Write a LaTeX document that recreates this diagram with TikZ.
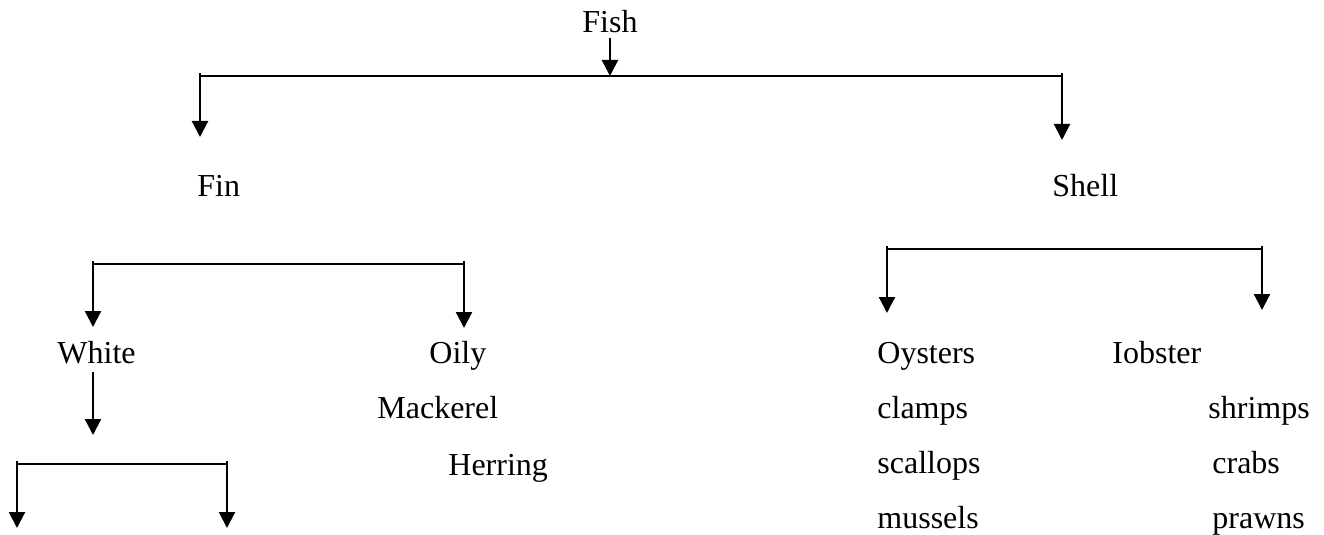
\documentclass[tikz,border=0pt]{standalone}
\usepackage{fontspec}
\setmainfont{Liberation Serif}
\usetikzlibrary{arrows.meta}
\begin{document}
\begin{tikzpicture}[x=0.5pt, y=-0.5pt,
    lbl/.style={inner sep=0pt, anchor=base west, font=\fontsize{16}{19}\selectfont},
    bar/.style={line width=1.1pt},
    arr/.style={line width=1.1pt, -{Triangle[width=8pt, length=8pt]}}]
    \useasboundingbox (0,0) rectangle (1324,535);
    % labels
    \node[lbl] (fish) at (582,33) {Fish};
    \node[lbl] (fin) at (197,197) {Fin};
    \node[lbl] (shell) at (1052,197) {Shell};
    \node[lbl] (white) at (57,363) {White};
    \node[lbl] (oily) at (429,363) {Oily};
    \node[lbl] (mackerel) at (377,418) {Mackerel};
    \node[lbl] (herring) at (448,475) {Herring};
    \foreach \nm/\y [count=\i] in {Oysters/363, clamps/418, scallops/473, mussels/528}
        \node[lbl] (shl\i) at (877,\y) {\nm};
    \foreach \nm/\x/\y [count=\i] in {Iobster/1112/363, shrimps/1208/418, crabs/1212/473, prawns/1212/528}
        \node[lbl] (shr\i) at (\x,\y) {\nm};
    % brackets
    \foreach \nm/\l/\r/\y/\tl/\tr in
        {fish/200/1062/76/137/140, fin/93/464/264/327/328, white/17/227/464/528/528, shell/887/1262/249/313/310}{
            \coordinate (\nm-l) at (\l,\y);
            \coordinate (\nm-r) at (\r,\y);
            \coordinate (\nm-ld) at (\l,\tl);
            \coordinate (\nm-rd) at (\r,\tr);
            \draw[bar] (\nm-l) -- (\nm-r);
            \draw[arr] ([yshift=1.5pt]\nm-l) -- (\nm-ld);
            \draw[arr] ([yshift=1.5pt]\nm-r) -- (\nm-rd);
    }
    % stems
    \coordinate (white-stem) at (93,435);
    \draw[arr] ([yshift=-2pt]fish.south) -- (fish.south |- fish-l);
    \draw[arr] ([yshift=-4pt]white.south -| fin-l) -- (white-stem);
\end{tikzpicture}
\end{document}
